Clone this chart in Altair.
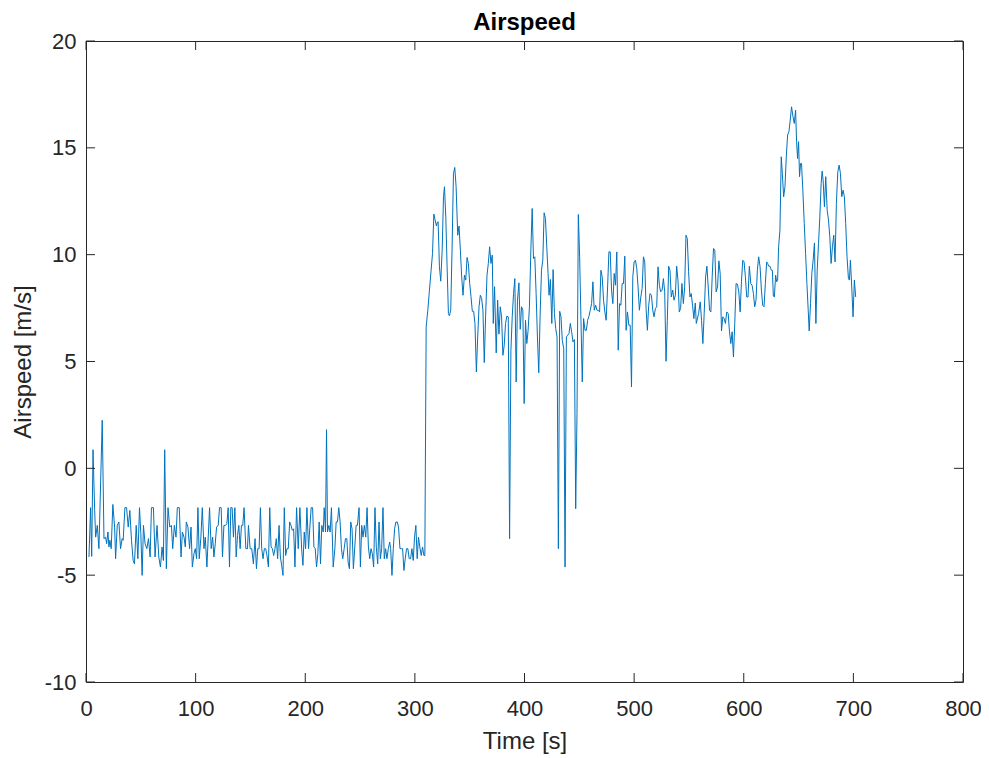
import altair as alt
import pandas as pd

# (time [s], airspeed [m/s]), by segment
ground_early = [
    (2.7, -4.15), (4.2, -1.84), (5.2, -4.12), (6.4, 0.87), (7.9, -1.97), (8.8, -3.22), (10.3, -2.67),
    (11.8, -3.76), (14.8, 2.25), (16.4, -3.29), (17.9, -3.22), (18.8, -3.53), (20.0, -2.98), (20.9, -3.68),
    (21.8, -3.37), (23.0, -3.76), (24.5, -1.69), (26.1, -2.75), (27.0, -4.23), (28.5, -2.67), (30.0, -2.51),
    (31.5, -3.76), (33.0, -3.29), (33.9, -3.37), (35.5, -1.84), (37.0, -1.84), (38.5, -2.75), (40.0, -1.97),
    (41.5, -3.37), (43.0, -4.31), (44.2, -4.47), (45.8, -2.67), (47.3, -4.23), (48.8, -1.84), (50.0, -3.06),
    (51.2, -5.01), (52.4, -2.67), (53.9, -3.53), (55.5, -3.76), (57.0, -3.29), (58.5, -4.15), (59.7, -1.84),
    (61.5, -1.84), (63.0, -4.15), (64.8, -2.67), (66.4, -4.15), (67.9, -4.62), (69.4, -3.68), (70.6, -4.31),
    (71.8, 0.87), (73.3, -4.70), (74.8, -1.84), (76.4, -2.75), (77.9, -2.67), (79.1, -3.76), (80.6, -2.67),
    (82.1, -3.22), (83.3, -1.84), (85.1, -1.84), (86.7, -4.15), (87.9, -2.98), (89.4, -3.22), (90.6, -3.68),
    (91.5, -2.51), (93.0, -2.75), (94.5, -3.76), (95.8, -2.75), (97.0, -4.62), (98.5, -4.00), (99.7, -3.76),
    (100.9, -4.23), (102.1, -1.84), (103.3, -4.23), (104.8, -3.22), (106.1, -1.84), (107.6, -3.76),
    (108.8, -3.22), (110.3, -4.62), (111.5, -3.22), (112.7, -1.84), (114.2, -3.76), (115.5, -3.22),
    (116.7, -4.15), (117.9, -3.53), (119.1, -2.75), (120.6, -2.67), (121.8, -1.84), (123.3, -1.84),
    (124.5, -4.15), (125.8, -2.67), (127.3, -2.67), (128.5, -2.59), (129.7, -1.84), (130.9, -4.62),
    (132.1, -1.84), (133.3, -1.84), (134.5, -3.22), (135.8, -1.84), (137.0, -4.15), (138.2, -3.14),
    (139.4, -2.67), (140.6, -3.76), (141.8, -2.67), (143.0, -2.67), (144.2, -1.84), (145.8, -3.76),
    (147.3, -3.76),
]

ground_late = [
    (148.2, -2.67), (149.7, -3.76), (151.2, -3.76), (152.7, -4.47), (154.2, -3.29), (155.5, -4.70),
    (156.7, -3.76), (157.9, -3.76), (159.1, -1.84), (160.3, -3.76), (161.5, -4.23), (162.7, -3.76),
    (163.9, -3.76), (165.1, -4.08), (166.4, -4.62), (167.6, -1.84), (168.8, -3.68), (170.0, -3.76),
    (171.2, -4.08), (172.4, -3.76), (173.6, -3.29), (174.8, -4.23), (176.1, -2.67), (177.3, -4.15),
    (178.5, -4.54), (179.7, -5.01), (180.9, -1.84), (182.1, -4.08), (183.3, -3.76), (184.5, -3.76),
    (185.8, -2.51), (187.0, -2.67), (188.2, -2.90), (189.4, -2.83), (190.6, -4.62), (192.1, -1.84),
    (193.6, -3.76), (195.1, -1.84), (196.7, -3.76), (197.9, -4.54), (199.1, -2.98), (200.3, -3.76),
    (201.5, -1.84), (203.0, -3.76), (204.2, -2.75), (205.4, -1.84), (206.7, -1.84), (207.9, -3.68),
    (209.1, -3.76), (210.3, -4.62), (211.5, -4.00), (212.7, -2.51), (213.9, -4.47), (215.1, -2.67),
    (216.4, -2.98), (217.3, -1.84), (218.5, -2.98), (219.4, 1.81), (220.3, -2.98), (221.5, -2.67),
    (222.7, -2.98), (223.9, -1.84), (225.5, -4.62), (227.0, -3.76), (228.2, -2.51), (229.4, -2.51),
    (230.6, -1.84), (231.8, -2.51), (233.0, -3.76), (234.2, -4.23), (235.5, -3.76), (236.7, -3.29),
    (237.9, -3.29), (239.1, -4.39), (240.3, -4.70), (241.5, -2.51), (242.7, -2.83), (243.9, -4.70),
    (245.2, -3.68), (246.4, -2.67), (247.6, -2.67), (249.1, -1.84), (250.3, -4.62), (251.5, -2.67),
    (252.7, -3.22), (253.9, -2.67), (255.2, -3.22), (256.4, -1.84), (257.6, -3.68), (258.8, -4.23),
    (260.0, -3.76), (261.2, -4.00), (262.4, -4.62), (263.6, -1.84), (264.8, -3.68), (266.1, -4.47),
    (267.3, -2.51), (268.5, -4.23), (269.7, -3.76), (270.9, -1.84), (272.1, -4.23), (273.3, -3.76),
    (274.5, -4.23), (275.8, -3.76), (277.0, -3.45), (277.9, -3.76), (279.1, -5.01), (280.3, -3.76),
    (281.5, -2.83), (282.7, -2.51), (283.9, -2.51), (285.1, -2.75), (286.4, -3.76), (287.6, -3.76),
    (288.8, -3.76), (290.0, -4.78), (291.2, -4.23), (292.4, -3.76), (293.6, -3.76), (294.8, -4.23),
    (296.1, -4.23), (297.3, -3.76), (298.5, -4.31), (299.7, -3.22), (300.9, -2.67), (302.1, -4.23),
    (303.3, -3.22), (304.5, -3.68), (305.8, -4.08), (307.0, -3.68), (308.2, -4.08), (309.1, -4.08),
]

flight_climb = [
    (310.3, 6.62), (311.8, 7.40), (313.3, 8.34), (314.8, 9.27), (316.1, 10.06), (317.3, 11.90),
    (318.5, 11.62), (319.7, 11.34), (320.3, 11.49), (321.2, 11.54), (322.4, 9.43), (323.6, 8.76),
    (324.9, 10.21), (326.1, 12.71), (327.0, 13.18), (328.2, 11.77), (329.4, 9.43), (330.6, 7.24),
    (331.5, 7.14), (332.7, 7.40), (333.9, 10.21), (335.2, 13.80), (336.4, 14.08), (337.6, 13.18),
    (339.1, 10.91), (340.3, 11.34), (341.5, 10.21), (342.7, 8.96), (343.9, 8.10), (345.2, 9.04),
    (346.4, 8.81), (347.6, 9.87), (348.8, 9.59), (350.0, 8.65), (351.2, 8.03), (352.4, 7.35),
    (353.6, 7.35), (354.8, 6.78), (356.1, 4.51), (357.3, 6.15), (358.5, 7.56), (359.7, 8.10),
    (360.9, 7.95), (362.1, 7.40), (363.3, 4.95), (364.5, 7.09), (365.8, 9.04), (367.0, 9.59),
    (368.2, 10.37), (369.4, 9.59), (370.6, 9.98), (371.5, 6.78), (372.7, 8.50), (374.2, 5.40),
    (375.5, 7.87), (376.7, 6.28), (377.9, 7.56), (379.1, 7.09), (380.3, 5.29), (381.5, 5.76),
    (382.7, 6.78), (383.9, 7.12), (385.2, 7.09), (386.4, -3.29), (387.6, 5.53), (388.8, 7.09),
    (390.0, 8.18), (391.2, 8.88), (392.4, 4.04), (393.6, 7.87), (394.9, 8.68), (396.1, 6.51),
    (397.3, 7.56), (398.5, 7.40), (399.7, 3.03), (400.9, 6.93), (402.1, 5.84), (403.3, 6.46),
    (404.5, 7.56), (405.8, 10.21), (407.0, 12.16), (408.2, 9.82), (409.4, 9.90), (410.6, 8.18),
    (411.8, 6.15), (413.0, 4.47), (414.2, 7.09), (415.5, 9.27), (416.7, 9.74), (417.9, 11.96),
]

flight_cruise = [
    (419.1, 11.69), (420.3, 10.37), (421.5, 9.12), (422.4, 8.10), (423.6, 8.84), (424.9, 6.78),
    (426.1, 9.30), (427.3, 7.24), (428.5, 6.54), (429.7, 6.15), (430.9, -3.76), (432.1, 7.35),
    (433.3, 7.09), (434.5, 5.99), (435.8, 5.60), (437.0, -4.62), (438.2, 6.15), (439.4, 6.23),
    (440.6, 6.31), (441.8, 6.78), (443.0, 6.39), (444.2, 5.92), (445.5, 6.03), (446.7, -1.89),
    (447.9, 2.56), (449.1, 11.88), (450.3, 9.90), (451.5, 6.93), (452.7, 4.04), (453.9, 7.01),
    (455.2, 6.46), (456.4, 6.46), (457.6, 6.93), (458.8, 7.12), (460.0, 7.40), (461.2, 7.71),
    (462.4, 8.73), (463.6, 7.40), (464.9, 7.63), (466.1, 7.40), (467.3, 7.40), (468.5, 7.32),
    (469.7, 9.27), (470.9, 8.96), (472.1, 7.87), (473.3, 7.32), (474.5, 6.93), (475.8, 8.49),
    (477.0, 10.13), (478.2, 10.13), (479.4, 8.34), (480.6, 7.71), (481.8, 9.12), (483.0, 8.57),
    (484.2, 10.13), (485.5, 5.53), (486.7, 7.71), (487.9, 7.63), (489.1, 8.65), (490.3, 8.65),
    (491.5, 9.93), (492.7, 6.46), (493.9, 7.32), (495.2, 6.70), (496.4, 6.70), (497.6, 3.81),
    (498.8, 8.96), (500.0, 9.66), (501.2, 9.74), (502.4, 9.35), (503.6, 8.49), (504.8, 7.40),
    (506.1, 8.02), (507.3, 8.41), (508.5, 9.90), (509.7, 9.66), (510.9, 7.48), (512.1, 6.46),
    (513.3, 7.63), (514.5, 8.18), (515.8, 8.10), (517.0, 7.40), (518.2, 7.09), (519.4, 7.48),
    (520.6, 7.56), (521.8, 9.43), (523.0, 8.57), (524.2, 8.26), (525.5, 8.34), (526.7, 8.88),
    (527.9, 8.26), (529.1, 5.01), (530.3, 6.93), (531.5, 9.46), (532.7, 9.27), (533.9, 8.02),
    (535.2, 8.34), (536.4, 7.87), (537.6, 8.10), (538.8, 9.46), (540.0, 8.81), (541.2, 7.32),
    (542.4, 7.48), (543.6, 8.65), (544.9, 7.71), (546.1, 8.49), (547.3, 10.91), (548.5, 10.76),
    (549.7, 9.20), (550.9, 8.02), (552.1, 8.18), (553.3, 7.63), (554.5, 7.01), (555.8, 7.74),
    (556.7, 6.78),
]

flight_late = [
    (558.8, 7.24), (560.3, 7.79), (561.5, 6.93), (562.7, 5.84), (563.9, 7.24), (565.2, 8.96),
    (566.4, 9.46), (567.6, 8.49), (568.8, 7.40), (570.0, 7.32), (571.2, 8.96), (572.4, 10.29),
    (573.6, 10.21), (574.8, 8.26), (576.1, 8.49), (577.3, 9.71), (578.5, 9.12), (579.7, 6.43),
    (580.9, 7.09), (582.1, 7.01), (583.3, 6.78), (584.5, 7.32), (585.8, 7.24), (587.0, 6.39),
    (588.2, 5.84), (589.4, 6.39), (590.6, 5.21), (591.8, 6.78), (593.0, 8.65), (594.2, 8.62),
    (595.5, 8.26), (596.7, 7.32), (597.9, 8.73), (599.1, 9.74), (600.3, 9.66), (601.5, 8.96),
    (602.7, 8.02), (603.9, 8.02), (605.1, 9.46), (606.4, 8.65), (607.6, 8.57), (608.8, 8.18),
    (610.0, 7.56), (611.2, 7.87), (612.4, 9.27), (613.6, 9.90), (614.9, 9.43), (616.1, 8.34),
    (617.3, 7.63), (618.5, 7.56), (619.7, 8.65),
]

flight_end = [
    (620.9, 9.66), (621.8, 9.59), (622.7, 9.46), (623.9, 9.46), (625.2, 9.27), (626.1, 9.27),
    (627.0, 8.06), (627.9, 8.02), (629.1, 9.04), (630.0, 8.73), (630.9, 8.81), (631.8, 10.37),
    (633.0, 11.15), (634.2, 14.58), (635.2, 13.80), (636.4, 12.71), (637.6, 13.18), (638.8, 14.58),
    (640.0, 15.60), (641.2, 15.75), (642.4, 16.30), (643.6, 16.92), (644.9, 16.46), (646.1, 16.14),
    (647.3, 16.77), (648.2, 15.29), (649.1, 14.50), (650.0, 15.29), (650.9, 13.65), (651.8, 14.27),
    (652.7, 14.27), (653.9, 13.02), (655.2, 11.46), (656.4, 10.06), (657.6, 8.65), (658.8, 7.40),
    (659.7, 6.43), (660.9, 7.71), (662.1, 9.12), (663.3, 9.74), (664.5, 10.55), (665.8, 6.78),
    (667.0, 9.27), (668.2, 10.52), (669.4, 11.77), (670.6, 13.33), (671.5, 13.91), (672.4, 13.49),
    (673.6, 12.24), (674.8, 13.65), (676.1, 12.08), (677.3, 11.62), (678.5, 10.84), (679.7, 9.59),
    (680.9, 10.37), (682.1, 10.91), (683.3, 9.66), (684.5, 12.40), (685.8, 13.88), (687.0, 14.19),
    (688.2, 13.80), (689.4, 12.71), (690.6, 13.02), (691.8, 12.71), (693.0, 11.46), (694.2, 9.90),
    (695.5, 8.88), (696.4, 8.81), (697.3, 9.74), (698.5, 8.49), (699.7, 7.09), (700.9, 8.81),
    (702.1, 8.02),
]

x_ticks = [0, 100, 200, 300, 400, 500, 600, 700, 800]
y_ticks = [-10, -5, 0, 5, 10, 15, 20]

rows = ground_early + ground_late + flight_climb + flight_cruise + flight_late + flight_end
df = pd.DataFrame(rows, columns=["time", "airspeed"])

W, H = 877, 641
TICK = 9
AX = "#262626"
FONT = "Liberation Sans"

xscale = alt.Scale(domain=[0, 800], nice=False, zero=False)
yscale = alt.Scale(domain=[-10, 20], nice=False, zero=False)

x_axis = alt.Axis(values=x_ticks, ticks=False, tickSize=0, domain=False, grid=False,
                  labelFlush=False, labelExpr="'' + datum.value",
                  labelFont=FONT, labelFontSize=22, labelColor=AX, labelPadding=16,
                  titleFont=FONT, titleFontSize=24, titleFontWeight="normal", titleColor=AX,
                  titlePadding=10)
y_axis = alt.Axis(values=y_ticks, ticks=False, tickSize=0, domain=False, grid=False,
                  labelFlush=False, labelExpr="'' + datum.value",
                  labelFont=FONT, labelFontSize=22, labelColor=AX, labelPadding=10,
                  titleFont=FONT, titleFontSize=24, titleFontWeight="normal", titleColor=AX,
                  titlePadding=9)

X = alt.X("time:Q", scale=xscale, title="Time [s]", axis=x_axis)
Y = alt.Y("airspeed:Q", scale=yscale, title="Airspeed [m/s]", axis=y_axis)

line = alt.Chart(df).mark_line(color="#0072BD", strokeWidth=1, clip=True).encode(x=X, y=Y)

xt = pd.DataFrame({"time": x_ticks})
yt = pd.DataFrame({"airspeed": y_ticks})

xtick_bottom = alt.Chart(xt).mark_rule(color=AX, strokeWidth=1).encode(
    x=X, y=alt.value(H), y2=alt.value(H - TICK))
xtick_top = alt.Chart(xt).mark_rule(color=AX, strokeWidth=1).encode(
    x=X, y=alt.value(0), y2=alt.value(TICK))
ytick_left = alt.Chart(yt).mark_rule(color=AX, strokeWidth=1).encode(
    y=Y, x=alt.value(0), x2=alt.value(TICK))
ytick_right = alt.Chart(yt).mark_rule(color=AX, strokeWidth=1).encode(
    y=Y, x=alt.value(W), x2=alt.value(W - TICK))

chart = alt.layer(line, xtick_bottom, xtick_top, ytick_left, ytick_right).properties(
    width=W, height=H,
    background="white",
    title=alt.TitleParams("Airspeed", font=FONT, fontSize=24, fontWeight="bold", color="black",
                          anchor="middle", offset=-5),
    autosize=alt.AutoSizeParams(type="none"),
    padding={"left": 78, "top": 33, "right": 18, "bottom": 72},
).configure_view(stroke=AX, strokeWidth=1)

chart.save("out.html", embed_options={"renderer": "svg", "actions": False})
